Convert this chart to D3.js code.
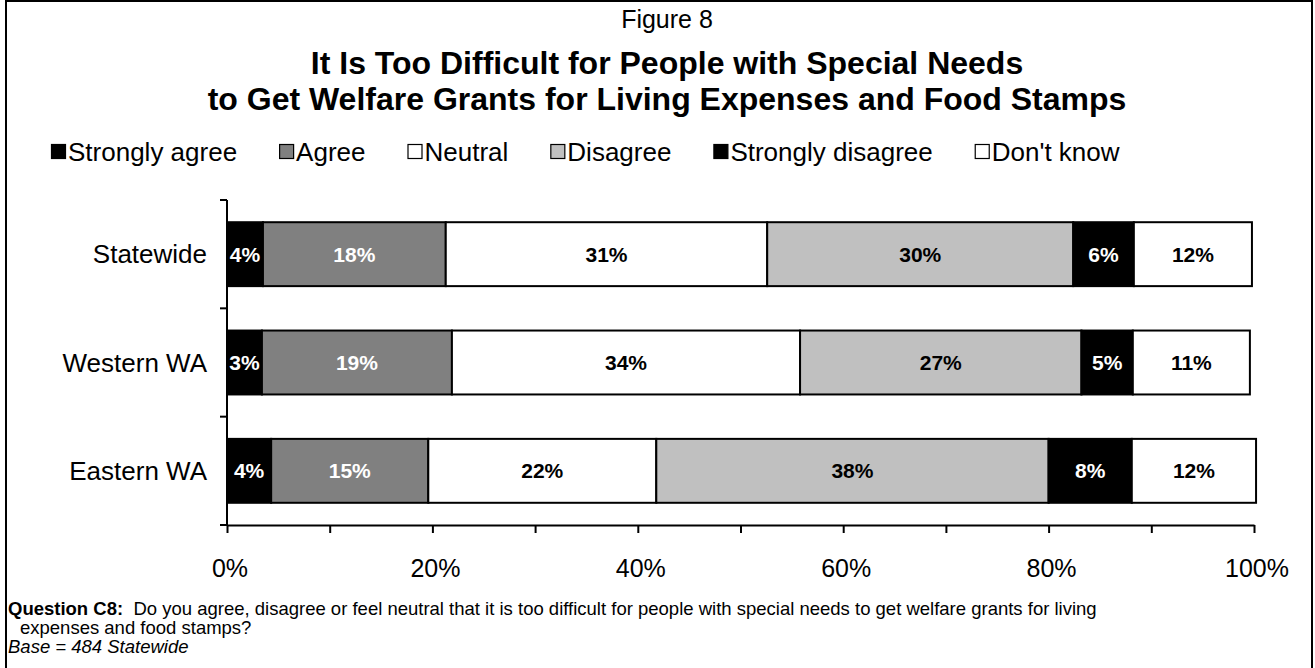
<!DOCTYPE html>
<html lang="en">
<head>
<meta charset="UTF-8">
<title>Figure 8</title>
<script src="https://cdn.jsdelivr.net/npm/d3@7"></script>
<style>
  body { margin: 0; background: #fff; }
  svg text { font-family: Arial, "Liberation Sans", sans-serif; }
</style>
</head>
<body>
<script>
// data
const regions = ['Statewide', 'Western WA', 'Eastern WA']
const answers = ['Strongly agree', 'Agree', 'Neutral', 'Disagree', 'Strongly disagree', "Don't know"]
const stronglyAgree = [3.5, 3.4, 4.3]
const agree = [17.8, 18.5, 15.3]
const neutral = [31.3, 33.9, 22.2]
const disagree = [29.8, 27.4, 38.2]
const stronglyDisagree = [5.9, 5.0, 8.1]
const dontKnow = [11.5, 11.4, 12.1]
const xTicks = [0, 20, 40, 60, 80, 100]

const fills = ['#000000', '#808080', '#ffffff', '#c0c0c0', '#000000', '#ffffff']
const labelColors = ['#fff', '#fff', '#000', '#000', '#fff', '#000']

const width = 1315
const height = 668
const margin = { top: 200, right: 61, bottom: 143, left: 227 }

const series = [stronglyAgree, agree, neutral, disagree, stronglyDisagree, dontKnow]
const rows = regions.map((r, i) => {
    const row = { region: r }
    answers.forEach((a, j) => row[a] = series[j][i])
    return row
})
const stacked = d3.stack().keys(answers)(rows)

const svg = d3.select('body').append('svg')
    .attr('width', width)
    .attr('height', height)

// frame
svg.append('rect')
    .attr('x', 6).attr('y', 1)
    .attr('width', width - 9).attr('height', height + 10)
    .attr('fill', 'none')
    .attr('stroke', '#000')
    .attr('stroke-width', 2)

// titles
svg.append('text')
    .attr('x', 667).attr('y', 28)
    .attr('text-anchor', 'middle')
    .attr('font-size', '25px')
    .text('Figure 8')

svg.append('text')
    .attr('x', 667).attr('y', 74)
    .attr('text-anchor', 'middle')
    .attr('font-size', '32px')
    .attr('font-weight', 'bold')
    .text('It Is Too Difficult for People with Special Needs')

svg.append('text')
    .attr('x', 667).attr('y', 110)
    .attr('text-anchor', 'middle')
    .attr('font-size', '32px')
    .attr('font-weight', 'bold')
    .text('to Get Welfare Grants for Living Expenses and Food Stamps')

// legend
let lx = 51
const legendY = 152
answers.forEach((a, i) => {
    svg.append('rect')
        .attr('x', lx + 0.5).attr('y', legendY - 7.5)
        .attr('width', 14).attr('height', 14)
        .attr('fill', fills[i])
        .attr('stroke', '#000')
        .attr('stroke-width', 1.2)
    const t = svg.append('text')
        .attr('x', lx + 17).attr('y', legendY + 9)
        .attr('font-size', '26px')
        .text(a)
    lx += 17 + t.node().getComputedTextLength() + 42
})

const xScale = d3.scaleLinear()
    .domain([0, 100])
    .range([margin.left, width - margin.right])

const yScale = d3.scaleBand()
    .domain(regions)
    .range([margin.top, height - margin.bottom])
    .paddingInner(0.41)
    .paddingOuter(0.205)

const groups = svg.selectAll('g.layer')
    .data(stacked)
    .enter()
    .append('g')
    .attr('class', 'layer')

groups.selectAll('rect')
    .data((d) => d.map((v) => ({ v, key: d.key, idx: d.index })))
    .enter()
    .append('rect')
    .attr('x', (d) => xScale(d.v[0]))
    .attr('y', (d) => yScale(d.v.data.region))
    .attr('width', (d) => xScale(d.v[1]) - xScale(d.v[0]))
    .attr('height', yScale.bandwidth())
    .attr('fill', (d) => fills[d.idx])
    .attr('stroke', '#000')
    .attr('stroke-width', 2)

groups.selectAll('text')
    .data((d) => d.map((v) => ({ v, key: d.key, idx: d.index })))
    .enter()
    .append('text')
    .attr('x', (d) => (xScale(d.v[0]) + xScale(d.v[1])) / 2)
    .attr('y', (d) => yScale(d.v.data.region) + yScale.bandwidth() / 2 + 7.5)
    .attr('text-anchor', 'middle')
    .attr('font-size', '21px')
    .attr('font-weight', 'bold')
    .attr('fill', (d) => labelColors[d.idx])
    .text((d) => Math.round(d.v[1] - d.v[0]) + '%')

// y axis
const yLine = svg.append('g')
yLine.append('line')
    .attr('x1', margin.left).attr('x2', margin.left)
    .attr('y1', margin.top).attr('y2', height - margin.bottom)
    .attr('stroke', '#000').attr('stroke-width', 2)
const yStep = yScale.step()
d3.range(regions.length + 1).forEach((i) => {
    const y = margin.top + i * yStep
    yLine.append('line')
        .attr('x1', margin.left - 7).attr('x2', margin.left)
        .attr('y1', y).attr('y2', y)
        .attr('stroke', '#000').attr('stroke-width', 2)
})
regions.forEach((r) => {
    svg.append('text')
        .attr('x', 207)
        .attr('y', yScale(r) + yScale.bandwidth() / 2 + 9)
        .attr('text-anchor', 'end')
        .attr('font-size', '26px')
        .text(r)
})

// x axis
const xAxis = d3.axisBottom(xScale)
    .tickValues(d3.range(0, 101, 10))
    .tickSize(8)
    .tickSizeOuter(0)
    .tickFormat('')

const gx = svg.append('g')
    .attr('transform', `translate(0, ${height - margin.bottom})`)
    .call(xAxis)
gx.select('.domain').attr('stroke-width', 2)
gx.selectAll('.tick line').attr('stroke-width', 2)

xTicks.forEach((t) => {
    svg.append('text')
        .attr('x', xScale(t) + 3)
        .attr('y', height - margin.bottom + 52)
        .attr('text-anchor', 'middle')
        .attr('font-size', '25px')
        .text(t + '%')
})

// footnote
const q = svg.append('text')
    .attr('x', 8).attr('y', 615)
    .attr('font-size', '18.5px')
    .attr('xml:space', 'preserve')
q.append('tspan').attr('font-weight', 'bold').text('Question C8:')
q.append('tspan').text('  Do you agree, disagree or feel neutral that it is too difficult for people with special needs to get welfare grants for living')

svg.append('text')
    .attr('x', 20).attr('y', 634)
    .attr('font-size', '18.5px')
    .text('expenses and food stamps?')

svg.append('text')
    .attr('x', 8).attr('y', 653)
    .attr('font-size', '18.5px')
    .attr('font-style', 'italic')
    .text('Base = 484 Statewide')
</script>
</body>
</html>
